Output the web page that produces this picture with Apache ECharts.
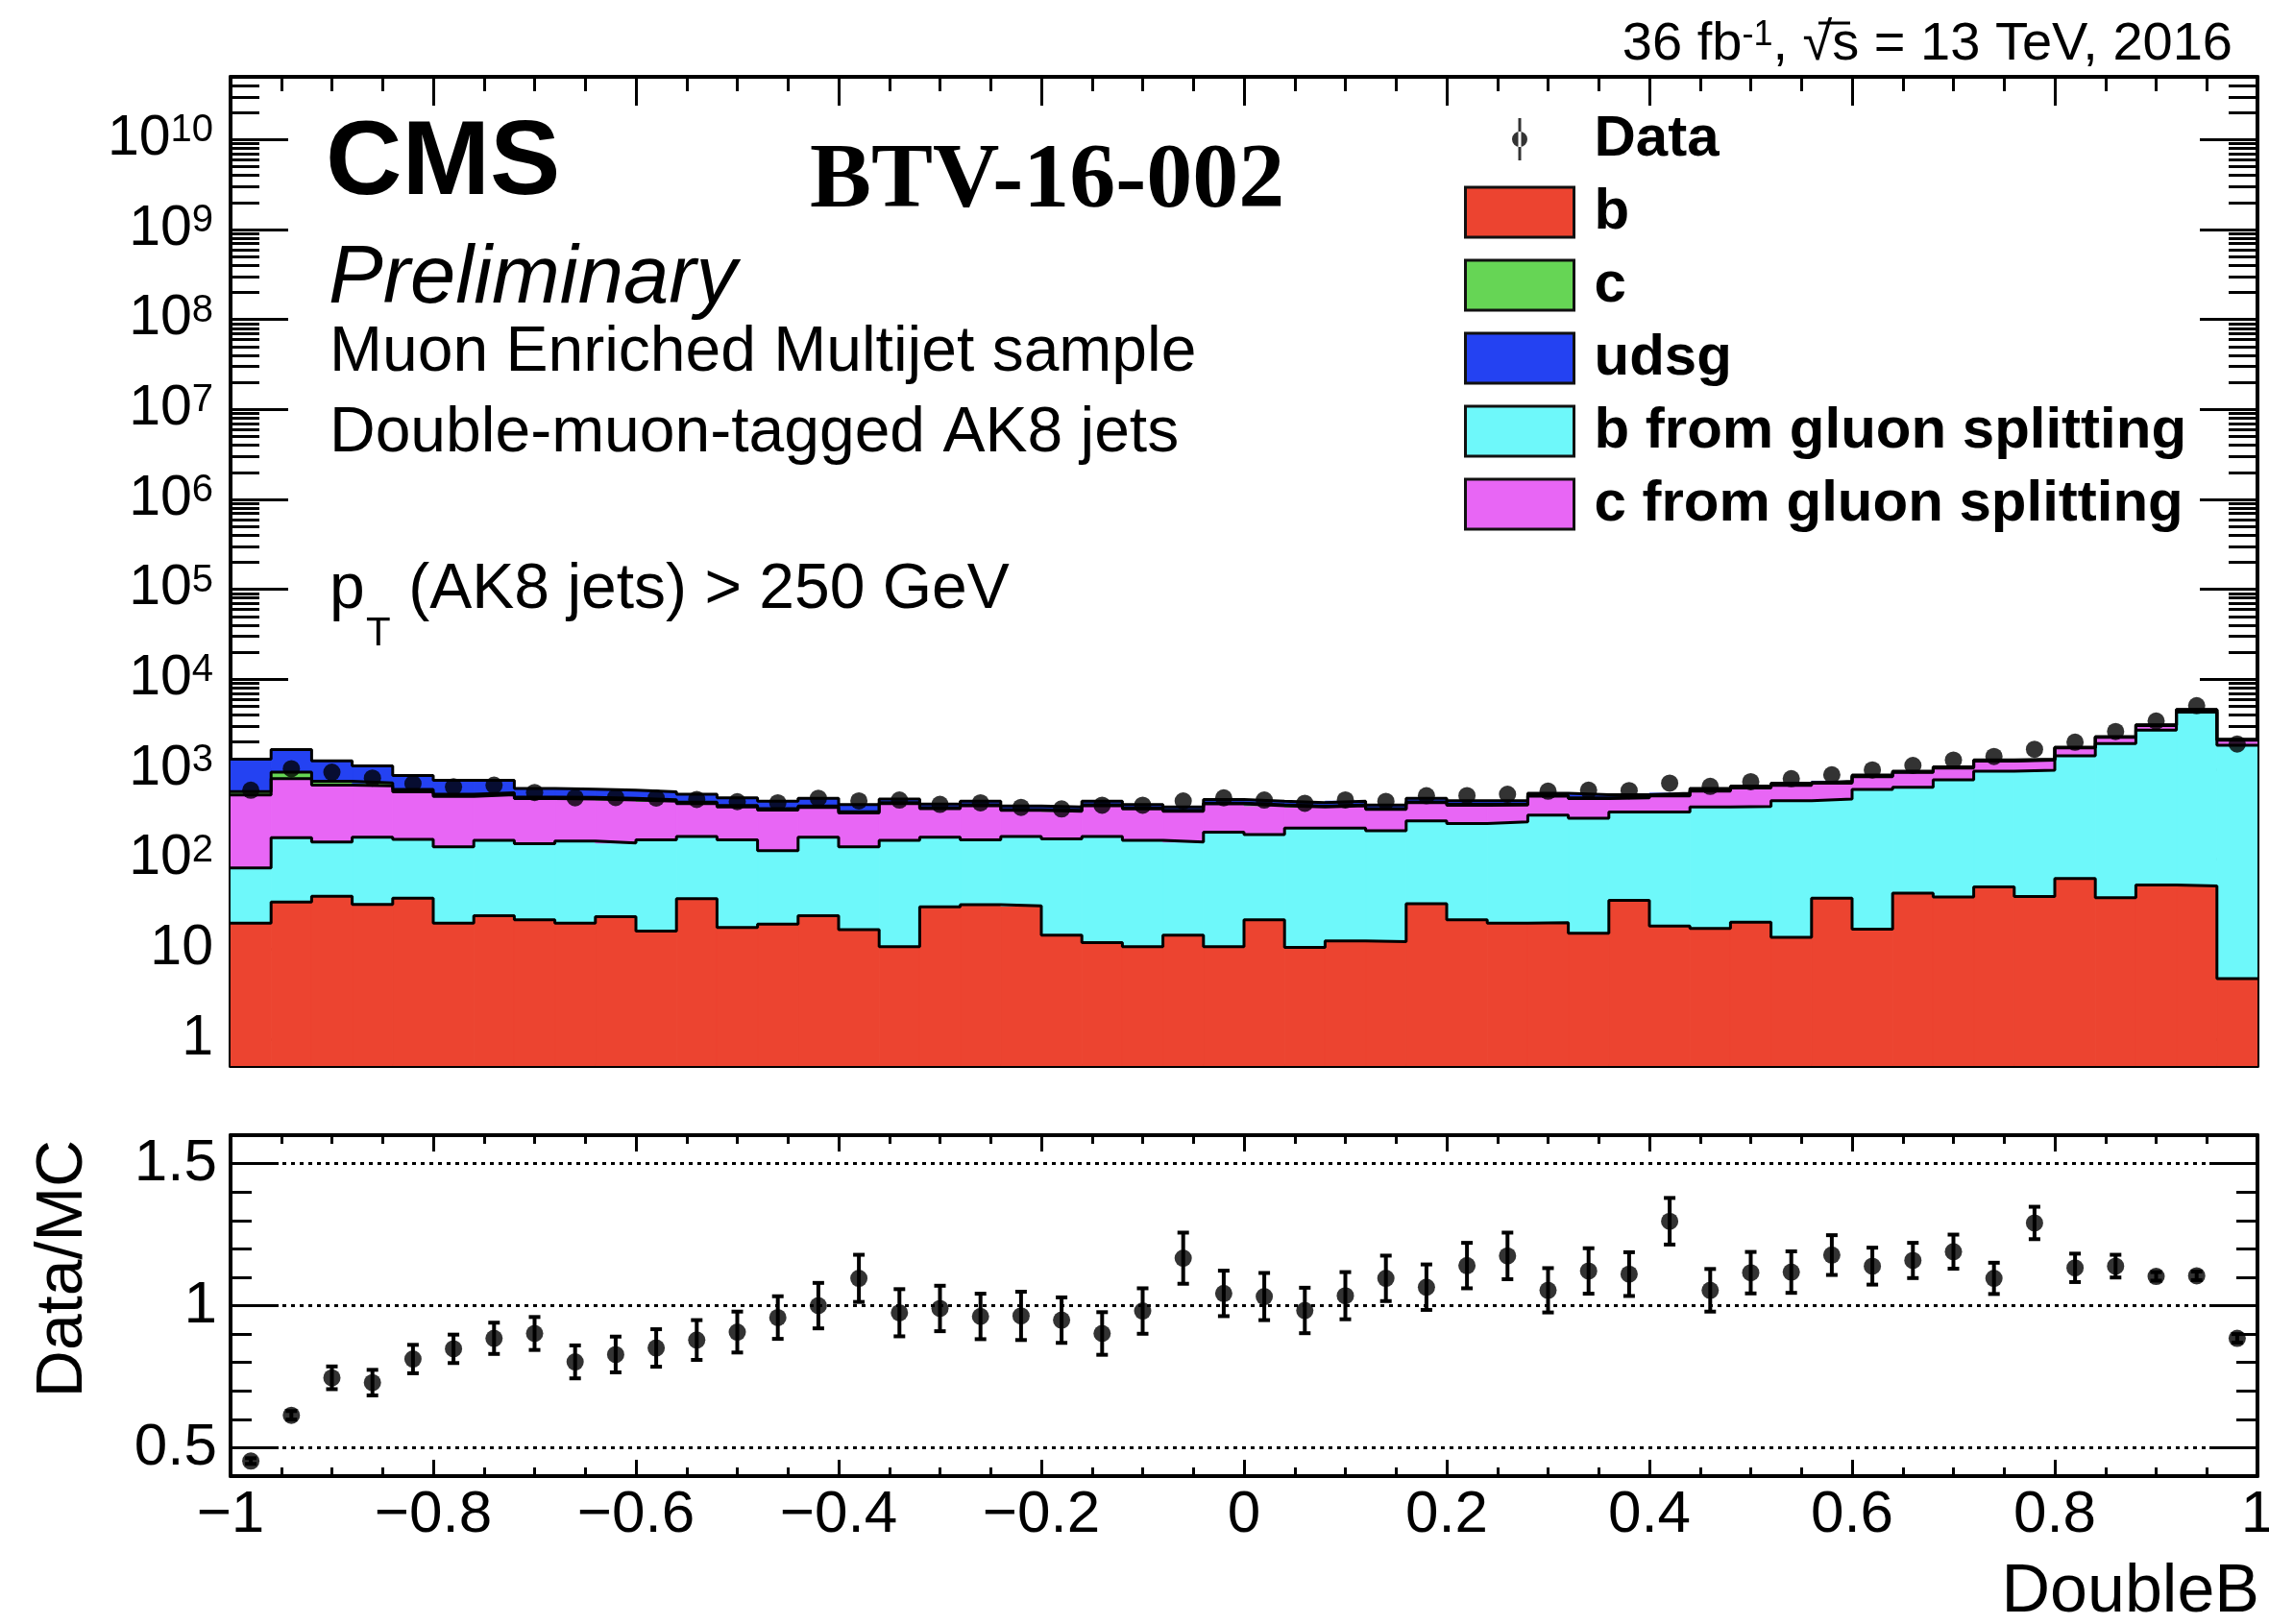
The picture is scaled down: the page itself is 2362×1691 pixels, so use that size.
<!DOCTYPE html>
<html>
<head>
<meta charset="utf-8">
<script src="https://cdn.jsdelivr.net/npm/echarts@6/dist/echarts.min.js"></script>
<style>
  html, body { margin: 0; padding: 0; background: #ffffff; }
  #chart { width: 2362px; height: 1691px; }
</style>
</head>
<body>
<div id="chart"></div>
<script>
// DoubleB discriminator, 50 bins between -1 and 1
const xMin = -1;
const xMax = 1;

// Simulated jet flavour composition per bin (events)
const flavB = [19.4, 33.3, 38.7, 31.4, 36.8, 19.4, 23.5, 21.1, 19.4, 22.9, 15.8, 36.2, 17.4, 18.9, 23.5, 16.4, 10.6, 29.4, 31.1, 30.1, 14.3, 11.8, 10.6, 14.3, 10.6, 21.1, 10.4, 12.3, 12.1, 31.9, 21.1, 19.4, 19.6, 15.0, 34.8, 18.0, 16.9, 19.9, 13.5, 36.8, 16.6, 41.7, 37.8, 49.1, 38.4, 60.9, 37.2, 51.6, 50.3, 4.7];
const gspB = [60.2, 139.4, 116.3, 143.6, 128.8, 117.3, 138.1, 127.4, 139.3, 128.2, 148.2, 141.8, 146.6, 105.0, 151.5, 120.3, 151.0, 145.6, 132.9, 147.9, 153.7, 166.2, 151.0, 140.7, 188.4, 165.9, 210.6, 208.7, 194.9, 234.1, 226.9, 240.6, 288.4, 269.0, 299.2, 316.0, 362.1, 364.1, 432.5, 428.2, 578.4, 588.3, 723.2, 900.9, 934.6, 1349.1, 1890.8, 2670.4, 4249.7, 1845.3];
const gspC = [437.4, 611.3, 508, 477, 395.4, 360.3, 358.4, 321.5, 306.3, 303.9, 276, 237, 216, 226.1, 200, 188.3, 253.4, 190, 229, 170, 172, 215, 200.4, 185, 212, 206, 159, 172, 150, 158, 149, 140, 192, 186, 146, 171, 192, 235, 216, 235, 231, 290, 269, 280, 287, 310, 332, 338, 240, 250];
const flavC = [45, 140, 70, 50, 35, 30, 25, 20, 20, 18, 17, 15, 14, 13, 14, 12, 10, 9, 9, 8, 8, 9, 8, 8, 9, 9, 8, 9, 8, 9, 9, 9, 10, 10, 10, 10, 12, 12, 13, 13, 14, 14, 15, 17, 15, 20, 20, 25, 30, 25];
const flavUdsg = [728, 726, 507, 388, 254, 223, 205, 120, 115, 112, 103, 95, 86, 77, 86, 68, 40, 36, 38, 34, 32, 38, 35, 32, 40, 38, 37, 38, 35, 42, 39, 38, 30, 40, 30, 25, 27, 19, 25, 22, 20, 16, 15, 18, 15, 20, 20, 25, 30, 25];

// Observed events per bin
const dataCounts = [584, 1013, 925, 795, 690, 636, 664, 550, 481, 484, 477, 461, 435, 422, 475, 444, 453, 406, 423, 376, 361, 397, 397, 443, 480, 454, 418, 455, 438, 506, 508, 525, 569, 583, 578, 700, 643, 725, 783, 866, 980, 1101, 1261, 1386, 1665, 1994, 2620, 3430, 5083, 1903];

// Data / MC ratio and its uncertainty
const ratioValues = [0.453, 0.614, 0.746, 0.729, 0.812, 0.848, 0.885, 0.902, 0.802, 0.828, 0.851, 0.879, 0.907, 0.958, 1.000, 1.096, 0.975, 0.990, 0.962, 0.964, 0.949, 0.902, 0.981, 1.167, 1.043, 1.032, 0.983, 1.035, 1.096, 1.065, 1.141, 1.175, 1.054, 1.122, 1.111, 1.297, 1.054, 1.116, 1.118, 1.178, 1.139, 1.159, 1.190, 1.096, 1.291, 1.133, 1.139, 1.103, 1.105, 0.885];
const ratioErrors = [0.010, 0.015, 0.040, 0.045, 0.050, 0.050, 0.055, 0.058, 0.058, 0.063, 0.066, 0.070, 0.072, 0.075, 0.080, 0.083, 0.083, 0.080, 0.080, 0.085, 0.080, 0.075, 0.080, 0.090, 0.080, 0.083, 0.080, 0.083, 0.080, 0.080, 0.080, 0.082, 0.078, 0.080, 0.077, 0.082, 0.075, 0.073, 0.073, 0.070, 0.065, 0.062, 0.060, 0.055, 0.057, 0.050, 0.040, 0.015, 0.015, 0.015];

// Axis ranges and tick values
const yMinTop = 0.5;
const yMaxTop = 5e10;
const yMajorTop = [1, 1e1, 1e2, 1e3, 1e4, 1e5, 1e6, 1e7, 1e8, 1e9, 1e10];
const ratioMin = 0.4;
const ratioMax = 1.6;
const ratioMajor = [0.5, 1, 1.5];
const ratioMinor = [0.6, 0.7, 0.8, 0.9, 1.1, 1.2, 1.3, 1.4];

const FONT = 'Liberation Sans, Arial, Helvetica, sans-serif';

// bin geometry
const nBins = flavB.length;
const binWidth = (xMax - xMin) / nBins;
const lowEdges = flavB.map((_, i) => xMin + i * binWidth);
const centers = flavB.map((_, i) => xMin + (i + 0.5) * binWidth);

// minor log ticks: 2..9 within each decade
const yMinorTop = [];
for (let k = -1; k <= 10; k++) {
  for (let m = 2; m <= 9; m++) {
    const v = Number((m * Math.pow(10, k)).toPrecision(6));
    if (v > yMinTop && v < yMaxTop) yMinorTop.push(v);
  }
}

// stacking order, bottom to top
const components = [
  { name: 'b', values: flavB, color: '#EC4430' },
  { name: 'b from gluon splitting', values: gspB, color: '#6EF8FA' },
  { name: 'c from gluon splitting', values: gspC, color: '#E866F5' },
  { name: 'c', values: flavC, color: '#66D555' },
  { name: 'udsg', values: flavUdsg, color: '#2442F2' }
];

// running sums for the stack
let running = flavB.map(() => 0);
components.forEach(c => {
  c.lower = running.slice();
  c.upper = running.map((v, i) => v + c.values[i]);
  running = c.upper;
});

function stepData(values) {
  const pts = values.map((v, i) => [lowEdges[i], v]);
  pts.push([xMax, values[values.length - 1]]);
  return pts;
}

const black = '#000000';
const tickStyle = { color: black, width: 3 };
const frameLine = { show: true, onZero: false, lineStyle: { color: black, width: 4 } };
const hiddenLine = { show: false, onZero: false };

function xAxisDef(grid, pos, major, minor, labels) {
  return {
    gridIndex: grid, type: 'value', min: xMin, max: xMax, interval: 0.2, position: pos,
    axisLine: frameLine,
    axisTick: { show: true, inside: true, length: major, lineStyle: tickStyle },
    minorTick: { show: true, splitNumber: 4, length: minor, lineStyle: tickStyle },
    splitLine: { show: false }, minorSplitLine: { show: false },
    axisLabel: labels ? {
      show: true, margin: 10, color: black, fontFamily: FONT, fontSize: 62,
      showMinLabel: true, showMaxLabel: true,
      formatter: v => (v < 0 ? '\u2212' : '') + String(Math.abs(Math.round(v * 10) / 10))
    } : { show: false }
  };
}

function logAxisDef(pos, ticks, len, labels, line) {
  return {
    gridIndex: 0, type: 'log', logBase: 10, min: yMinTop, max: yMaxTop, position: pos,
    axisLine: line ? frameLine : hiddenLine,
    axisTick: { show: true, inside: true, length: len, customValues: ticks, lineStyle: tickStyle },
    minorTick: { show: false },
    splitLine: { show: false },
    axisLabel: labels ? {
      show: true, customValues: ticks, margin: 18, color: black, fontFamily: FONT,
      formatter: v => {
        const e = Math.round(Math.log10(v));
        if (e === 0) return '{b|1}';
        if (e === 1) return '{b|10}';
        return '{b|10}{s|' + e + '}';
      },
      rich: {
        b: { fontFamily: FONT, fontSize: 59, lineHeight: 58, verticalAlign: 'bottom', color: black },
        s: { fontFamily: FONT, fontSize: 40, lineHeight: 30, verticalAlign: 'top', color: black }
      }
    } : { show: false }
  };
}

function ratioAxisDef(pos, ticks, len, labels, line) {
  return {
    gridIndex: 1, type: 'value', min: ratioMin, max: ratioMax, position: pos,
    axisLine: line ? frameLine : hiddenLine,
    axisTick: { show: true, inside: true, length: len, customValues: ticks, lineStyle: tickStyle },
    minorTick: { show: false },
    splitLine: { show: false },
    axisLabel: labels ? {
      show: true, customValues: ticks, margin: 14, color: black, fontFamily: FONT, fontSize: 62,
      formatter: v => String(v)
    } : { show: false }
  };
}

// filled histogram bins between the running sums
const fillSeries = components.map(c => ({
  type: 'custom', name: c.name, xAxisIndex: 0, yAxisIndex: 0, z: 2, silent: true, clip: true,
  itemStyle: { color: c.color },
  data: c.values.map((_, i) => [lowEdges[i], lowEdges[i] + binWidth, Math.max(c.lower[i], yMinTop), c.upper[i]]),
  encode: { x: [0, 1], y: [2, 3] },
  renderItem: (params, api) => {
    const topLeft = api.coord([api.value(0), api.value(3)]);
    const bottomRight = api.coord([api.value(1), api.value(2)]);
    return {
      type: 'rect',
      shape: { x: topLeft[0], y: topLeft[1], width: bottomRight[0] - topLeft[0], height: bottomRight[1] - topLeft[1] },
      style: { fill: c.color, stroke: c.color, lineWidth: 1 }
    };
  }
}));

// black step outline on top of each stacked contribution
const edgeSeries = components.map(c => ({
  type: 'line', name: c.name + ' edge', xAxisIndex: 0, yAxisIndex: 0,
  step: 'end', data: stepData(c.upper),
  symbol: 'none', showSymbol: false, silent: true, z: 3,
  lineStyle: { width: 3, color: black }
}));

const dataIcon = 'path://M0,0h0.01v0.01h-0.01Z M113,52h-0.01v-0.01h0.01Z M55,4h3v44h-3Z M48.5,26a8,8 0 1,0 16,0a8,8 0 1,0 -16,0Z';

const legendItems = [
  { name: 'Data', icon: dataIcon, itemStyle: { color: black, borderWidth: 0 } }
].concat(['b', 'c', 'udsg', 'b from gluon splitting', 'c from gluon splitting'].map(n => {
  const c = components.find(k => k.name === n);
  return { name: n, icon: 'rect', itemStyle: { color: c.color, borderColor: '#111', borderWidth: 3 } };
}));

const textBase = { fill: black, align: 'left', textAlign: 'left', verticalAlign: 'middle', textVerticalAlign: 'middle' };

const option = {
  animation: false,
  backgroundColor: '#ffffff',
  grid: [
    { left: 240, right: 12, top: 80, height: 1030, outerBoundsMode: 'none' },
    { left: 240, right: 12, top: 1182, height: 355, outerBoundsMode: 'none' }
  ],
  legend: {
    show: true, orient: 'vertical', left: 1519, top: 110,
    itemWidth: 113, itemHeight: 52, itemGap: 16,
    selectedMode: false,
    data: legendItems,
    textStyle: { fontFamily: FONT, fontSize: 60, fontWeight: 'bold', color: black, padding: [0, 0, 0, 16] }
  },
  xAxis: [
    xAxisDef(0, 'bottom', 30, 15, false),
    xAxisDef(0, 'top', 30, 15, false),
    xAxisDef(1, 'bottom', 17, 9, true),
    xAxisDef(1, 'top', 17, 9, false)
  ],
  yAxis: [
    logAxisDef('left', yMajorTop, 60, true, true),
    logAxisDef('left', yMinorTop, 30, false, false),
    logAxisDef('right', yMajorTop, 60, false, true),
    logAxisDef('right', yMinorTop, 30, false, false),
    ratioAxisDef('left', ratioMajor, 50, true, true),
    ratioAxisDef('left', ratioMinor, 22, false, false),
    ratioAxisDef('right', ratioMajor, 50, false, true),
    ratioAxisDef('right', ratioMinor, 22, false, false)
  ],
  series: fillSeries.concat(edgeSeries).concat([
    {
      type: 'scatter', name: 'Data', xAxisIndex: 0, yAxisIndex: 0, z: 5,
      data: centers.map((x, i) => [x, dataCounts[i]]),
      symbol: 'circle', symbolSize: 18, itemStyle: { color: black }
    },
    {
      type: 'scatter', name: 'Data/MC', xAxisIndex: 2, yAxisIndex: 4, z: 5,
      data: centers.map((x, i) => [x, ratioValues[i]]),
      symbol: 'circle', symbolSize: 18, itemStyle: { color: black },
      markLine: {
        silent: true, symbol: ['none', 'none'], label: { show: false }, z: 1,
        lineStyle: { type: [4, 5], color: black, width: 3 },
        data: ratioMajor.map(v => ({ yAxis: v }))
      }
    },
    {
      type: 'custom', name: 'Data/MC uncertainty', xAxisIndex: 2, yAxisIndex: 4, z: 4,
      data: centers.map((x, i) => [x, ratioValues[i], ratioErrors[i]]),
      encode: { x: 0, y: 1 },
      renderItem: (params, api) => {
        const x = api.value(0), y = api.value(1), e = api.value(2);
        const hi = api.coord([x, y + e]);
        const lo = api.coord([x, y - e]);
        const cap = 6;
        const st = { stroke: black, lineWidth: 4 };
        return {
          type: 'group', children: [
            { type: 'line', shape: { x1: hi[0], y1: hi[1], x2: lo[0], y2: lo[1] }, style: st },
            { type: 'line', shape: { x1: hi[0] - cap, y1: hi[1], x2: hi[0] + cap, y2: hi[1] }, style: st },
            { type: 'line', shape: { x1: lo[0] - cap, y1: lo[1], x2: lo[0] + cap, y2: lo[1] }, style: st }
          ]
        };
      }
    }
  ]),
  graphic: [
    { type: 'text', x: 2324, y: 47, style: {
      text: '{m|36 fb}{s|-1}{m|, \u221As = 13 TeV, 2016}',
      align: 'right', textAlign: 'right', verticalAlign: 'middle', textVerticalAlign: 'middle',
      rich: {
        m: { fontFamily: FONT, fontSize: 56, lineHeight: 56, verticalAlign: 'bottom', fill: black, color: black },
        s: { fontFamily: FONT, fontSize: 36, lineHeight: 34, verticalAlign: 'top', fill: black, color: black }
      }
    } },
    // bar over the s under the root sign
    { type: 'line', shape: { x1: 1893, y1: 24, x2: 1926, y2: 24 }, style: { stroke: black, lineWidth: 3 } },
    { type: 'text', x: 339, y: 172, style: Object.assign({ text: 'CMS', font: 'bold 110px ' + FONT }, textBase) },
    { type: 'text', x: 843, y: 190, style: Object.assign({ text: 'BTV-16-002', font: 'bold 96px Liberation Serif, DejaVu Serif, serif' }, textBase) },
    { type: 'text', x: 342, y: 291, style: Object.assign({ text: 'Preliminary', font: 'italic 85px ' + FONT }, textBase) },
    { type: 'text', x: 343, y: 368, style: Object.assign({ text: 'Muon Enriched Multijet sample', font: '66px ' + FONT }, textBase) },
    { type: 'text', x: 343, y: 452, style: Object.assign({ text: 'Double-muon-tagged AK8 jets', font: '66px ' + FONT }, textBase) },
    { type: 'text', x: 343, y: 615, style: Object.assign({ text: 'p', font: '66px ' + FONT }, textBase) },
    { type: 'text', x: 381, y: 660, style: Object.assign({ text: 'T', font: '42px ' + FONT }, textBase) },
    { type: 'text', x: 407, y: 615, style: Object.assign({ text: ' (AK8 jets) > 250 GeV', font: '66px ' + FONT }, textBase) },
    { type: 'text', x: 66, y: 1321, rotation: Math.PI / 2, style: Object.assign({}, textBase, {
      text: 'Data/MC', font: '68px ' + FONT, align: 'center', textAlign: 'center'
    }) },
    { type: 'text', x: 2352, y: 1659, style: Object.assign({}, textBase, {
      text: 'DoubleB', font: '70px ' + FONT, align: 'right', textAlign: 'right'
    }) }
  ]
};

const chart = echarts.init(document.getElementById('chart'), null, { renderer: 'canvas', width: 2362, height: 1691 });
chart.setOption(option);
</script>
</body>
</html>
